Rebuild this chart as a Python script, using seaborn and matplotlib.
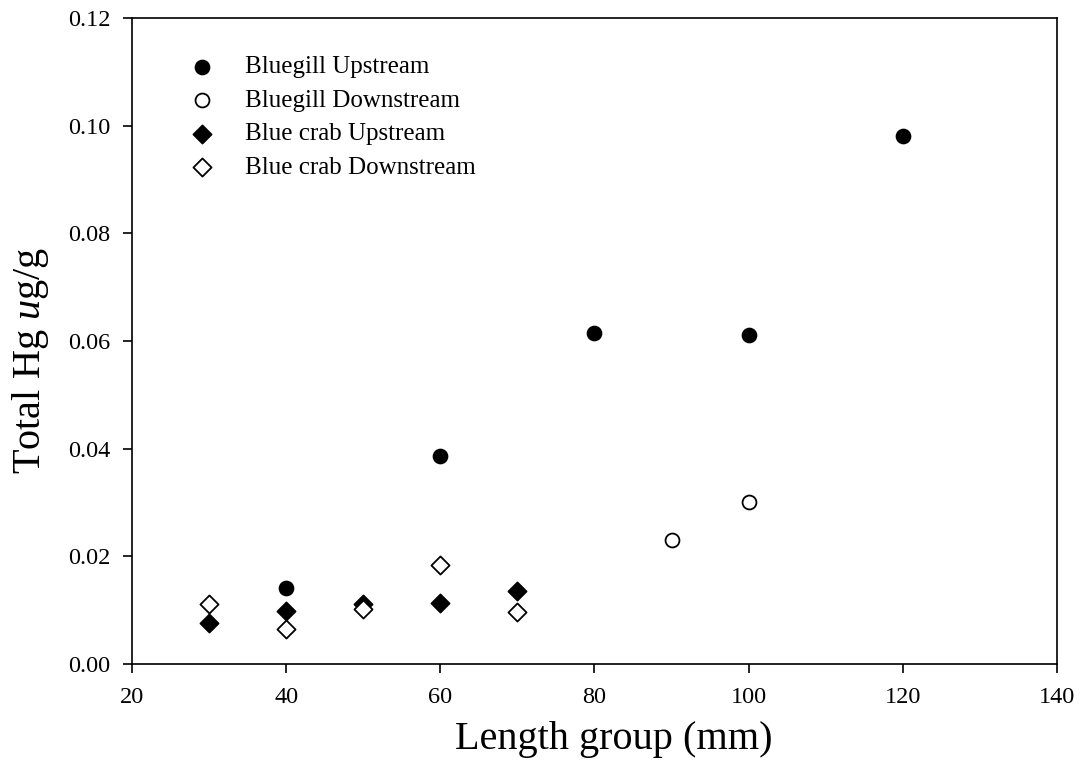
import matplotlib
matplotlib.use("Agg")
import matplotlib.pyplot as plt
import seaborn as sns
import pandas as pd

# Mean total mercury (ug/g) by length group
bluegill_up_len = [40, 60, 80, 100, 120]
bluegill_up_hg = [0.0141, 0.0386, 0.0614, 0.0611, 0.0981]

bluegill_down_len = [90, 100]
bluegill_down_hg = [0.0230, 0.0301]

crab_up_len = [30, 40, 50, 60, 70]
crab_up_hg = [0.0076, 0.0099, 0.0112, 0.0113, 0.0135]

crab_down_len = [30, 40, 50, 60, 70]
crab_down_hg = [0.0112, 0.0065, 0.0102, 0.0183, 0.0097]

x_ticks = [20, 40, 60, 80, 100, 120, 140]
y_ticks = [0.00, 0.02, 0.04, 0.06, 0.08, 0.10, 0.12]

sns.set_theme(style="white")
plt.rcParams["font.family"] = ["Liberation Serif", "DejaVu Serif"]
plt.rcParams["mathtext.fontset"] = "custom"
plt.rcParams["mathtext.rm"] = "Liberation Serif"
plt.rcParams["mathtext.it"] = "Liberation Serif:italic"

series = [
    ("Bluegill Upstream", bluegill_up_len, bluegill_up_hg, "o", "black"),
    ("Bluegill Downstream", bluegill_down_len, bluegill_down_hg, "o", "white"),
    ("Blue crab Upstream", crab_up_len, crab_up_hg, "D", "black"),
    ("Blue crab Downstream", crab_down_len, crab_down_hg, "D", "white"),
]

fig = plt.figure(figsize=(10.87, 7.73), dpi=100)
ax = fig.add_axes([0.1214, 0.141, 0.851, 0.8357])

for name, xs, ys, marker, face in series:
    df = pd.DataFrame({"length": xs, "hg": ys})
    sns.scatterplot(data=df, x="length", y="hg", ax=ax, marker=marker,
                    s=100 if marker == "o" else 85, color=face,
                    edgecolor="black", linewidth=1.3, label=name, zorder=3)

ax.set_xlim(20, 140)
ax.set_ylim(0, 0.12)
ax.set_xticks(x_ticks)
ax.set_yticks(y_ticks)
ax.set_xticklabels([str(v) for v in x_ticks])
ax.set_yticklabels([f"{v:.2f}" for v in y_ticks])
ax.tick_params(axis="both", direction="out", length=6.5, width=1.2,
               labelsize=17.5, color="black", labelcolor="black",
               bottom=True, left=True)
ax.tick_params(axis="x", pad=10)
ax.tick_params(axis="y", pad=9)

for sp in ax.spines.values():
    sp.set_visible(True)
    sp.set_color("black")
    sp.set_linewidth(1.2)

ax.set_xlabel("Length group (mm)", fontsize=29, color="black")
ax.set_ylabel("Total Hg $\\mathit{u}$g/g", fontsize=29, color="black")
ax.xaxis.set_label_coords(0.521, -0.088)
ax.yaxis.set_label_coords(-0.087, 0.4706)

leg = ax.legend(loc="upper left", bbox_to_anchor=(0.038, 0.957), frameon=False,
                fontsize=18, handletextpad=0.72, labelspacing=0.44,
                borderaxespad=0.0, markerscale=1.0)
for t in leg.get_texts():
    t.set_color("black")

fig.savefig("out.png", dpi=100, facecolor="white")
